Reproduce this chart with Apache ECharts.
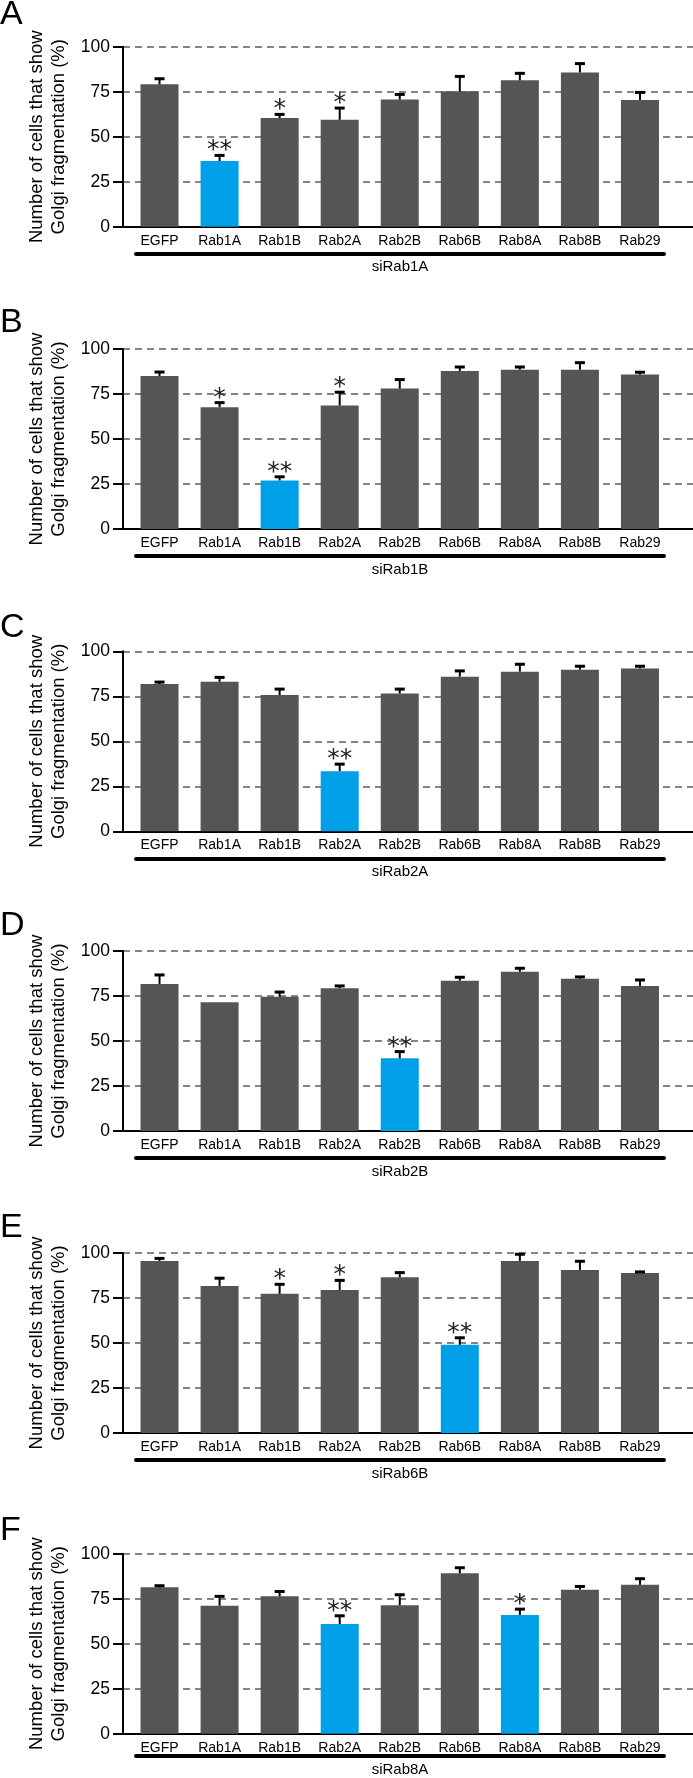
<!DOCTYPE html>
<html>
<head>
<meta charset="UTF-8">
<title>Golgi fragmentation</title>
<script src="https://cdn.jsdelivr.net/npm/echarts@6.0.0/dist/echarts.min.js"></script>
<style>
    html, body {
        margin: 0;
        padding: 0;
        background: #fff;
    }

    #main {
        width: 693px;
        height: 1778px;
    }
</style>
</head>
<body>
<div id="main"></div>
<script type="text/javascript">
    // categories and knockdown conditions
    const categories = ['EGFP', 'Rab1A', 'Rab1B', 'Rab2A', 'Rab2B', 'Rab6B', 'Rab8A', 'Rab8B', 'Rab29'];
    const panelLetters = ['A', 'B', 'C', 'D', 'E', 'F'];
    const knockdowns = ['siRab1A', 'siRab1B', 'siRab2A', 'siRab2B', 'siRab6B', 'siRab8A'];
    const yTicks = [0, 25, 50, 75, 100];

    // mean % of cells with fragmented Golgi
    const meanA = [79.1, 36.5, 60.4, 59.4, 70.6, 75.2, 81.3, 85.7, 70.4];
    const meanB = [85.0, 67.7, 27.0, 68.6, 78.0, 87.8, 88.5, 88.5, 85.8];
    const meanC = [81.8, 83.1, 75.7, 33.4, 76.6, 85.9, 88.7, 89.8, 90.5];
    const meanD = [81.7, 71.5, 74.6, 79.3, 40.4, 83.5, 88.5, 84.6, 80.6];
    const meanE = [95.6, 81.7, 77.3, 79.5, 86.5, 49.0, 95.6, 90.6, 88.9];
    const meanF = [81.3, 71.1, 76.3, 60.9, 71.4, 89.2, 66.0, 80.0, 82.7];

    // upper error (SD / SEM)
    const errA = [3.1, 3.1, 2.0, 6.5, 2.9, 8.3, 3.9, 4.9, 4.2];
    const errB = [2.2, 2.5, 2.0, 7.4, 5.0, 2.2, 1.5, 3.9, 1.3];
    const errC = [1.1, 2.4, 3.3, 3.9, 2.4, 3.2, 4.1, 1.9, 1.2];
    const errD = [5.0, 0, 2.6, 1.3, 3.7, 1.9, 1.9, 1.0, 3.3];
    const errE = [1.4, 4.3, 5.3, 5.3, 2.6, 3.9, 3.7, 4.8, 0.6];
    const errF = [0.9, 5.2, 2.7, 4.6, 5.8, 3.0, 3.2, 1.8, 3.4];

    // number of asterisks over each bar
    const sigA = [0, 2, 1, 1, 0, 0, 0, 0, 0];
    const sigB = [0, 1, 2, 1, 0, 0, 0, 0, 0];
    const sigC = [0, 0, 0, 2, 0, 0, 0, 0, 0];
    const sigD = [0, 0, 0, 0, 2, 0, 0, 0, 0];
    const sigE = [0, 0, 1, 1, 0, 2, 0, 0, 0];
    const sigF = [0, 0, 0, 2, 0, 0, 1, 0, 0];

    // bars drawn in blue
    const highlight = [[1], [2], [3], [4], [5], [3, 6]];

    const means = [meanA, meanB, meanC, meanD, meanE, meanF];
    const errs = [errA, errB, errC, errD, errE, errF];
    const sigs = [sigA, sigB, sigC, sigD, sigE, sigF];

    // layout
    const panelTops = [46.7, 349, 651.3, 951, 1253, 1553.7];
    const letterTops = [4, 311.7, 616.7, 915, 1216.7, 1520];
    const plotH = 180;
    const FONT = '"Liberation Sans", Arial, Helvetica, sans-serif';
    const GREY = '#555555';
    const BLUE = '#00a0e8';

    let chart = echarts.init(document.getElementById('main'));

    let grids = [], xAxes = [], yAxes = [], series = [], titles = [];

    for (let p = 0; p < 6; p++) {
        let top = panelTops[p];
        let g = p * 3;

        // grid for the axis frame and dashed lines
        grids.push({left: 123, right: 0, top: top, height: plotH});
        // grid for the bars
        grids.push({left: 129.5, right: 23, top: top, height: plotH});
        // grid for the black underline + knockdown name
        grids.push({left: 136, right: 29, top: top, height: plotH});

        xAxes.push({
            gridIndex: g, type: 'value', min: 0, max: 1,
            axisLine: {show: true, onZero: false, lineStyle: {color: '#000', width: 2}},
            axisTick: {show: false}, axisLabel: {show: false}, splitLine: {show: false}
        });
        yAxes.push({
            gridIndex: g, type: 'value', min: 0, max: 100, interval: 25,
            axisLine: {show: true, lineStyle: {color: '#000', width: 2}},
            axisTick: {show: true, length: 10, lineStyle: {color: '#000', width: 2}},
            axisLabel: {
                color: '#000', fontSize: 17.5, fontFamily: FONT, margin: 13,
                customValues: yTicks
            },
            splitLine: {show: true, lineStyle: {color: '#858585', width: 2, type: [7, 5]}},
            name: 'Number of cells that show\nGolgi fragmentation (%)',
            nameLocation: 'middle',
            nameGap: 47,
            nameTextStyle: {color: '#000', fontSize: 18.5, lineHeight: 22, fontFamily: FONT}
        });

        xAxes.push({
            gridIndex: g + 1, type: 'category', data: categories,
            axisLine: {show: false}, axisTick: {show: false},
            axisLabel: {color: '#000', fontSize: 14, fontFamily: FONT, margin: 7, interval: 0}
        });
        yAxes.push({gridIndex: g + 1, type: 'value', min: 0, max: 100, show: false});

        xAxes.push({
            gridIndex: g + 2, type: 'value', min: 0, max: 1, offset: 27,
            axisLine: {show: true, onZero: false, lineStyle: {color: '#000', width: 4}},
            axisTick: {show: false}, axisLabel: {show: false}, splitLine: {show: false},
            name: knockdowns[p], nameLocation: 'middle', nameGap: 6,
            nameTextStyle: {color: '#000', fontSize: 15, fontFamily: FONT}
        });
        yAxes.push({gridIndex: g + 2, type: 'value', min: 0, max: 1, show: false});

        titles.push({
            text: panelLetters[p], left: 0, top: letterTops[p] - 6, padding: 0,
            textStyle: {color: '#000', fontSize: 34, fontWeight: 'normal', fontFamily: FONT}
        });

        series.push({
            type: 'bar',
            xAxisIndex: g + 1, yAxisIndex: g + 1,
            barWidth: 38,
            silent: true,
            data: means[p].map(function (v, i) {
                return {value: v, itemStyle: {color: highlight[p].indexOf(i) >= 0 ? BLUE : GREY}};
            })
        });

        series.push({
            type: 'custom',
            xAxisIndex: g + 1, yAxisIndex: g + 1,
            silent: true,
            z: 5,
            data: means[p].map(function (v, i) {
                return [i, v, errs[p][i], sigs[p][i]];
            }),
            renderItem: function (params, api) {
                let i = api.value(0), m = api.value(1), e = api.value(2), n = api.value(3);
                let base = api.coord([i, m]);
                let tip = api.coord([i, m + e]);
                let children = [];
                if (e > 0) {
                    children.push({
                        type: 'line',
                        shape: {x1: base[0], y1: base[1], x2: tip[0], y2: tip[1]},
                        style: {stroke: '#000', lineWidth: 2}
                    });
                    children.push({
                        type: 'line',
                        shape: {x1: tip[0] - 5, y1: tip[1], x2: tip[0] + 5, y2: tip[1]},
                        style: {stroke: '#000', lineWidth: 3}
                    });
                }
                if (n > 0) {
                    children.push({
                        type: 'text',
                        style: {
                            text: n === 2 ? '**' : '*',
                            x: tip[0], y: tip[1] - 4.5,
                            align: 'center', verticalAlign: 'middle',
                            fontSize: 25, fontFamily: '"DejaVu Sans", sans-serif',
                            fill: '#222'
                        }
                    });
                }
                return {type: 'group', children: children};
            }
        });
    }

    let option = {
        backgroundColor: '#fff',
        animation: false,
        title: titles,
        grid: grids,
        xAxis: xAxes,
        yAxis: yAxes,
        series: series
    };
    chart.setOption(option);
</script>
</body>
</html>
